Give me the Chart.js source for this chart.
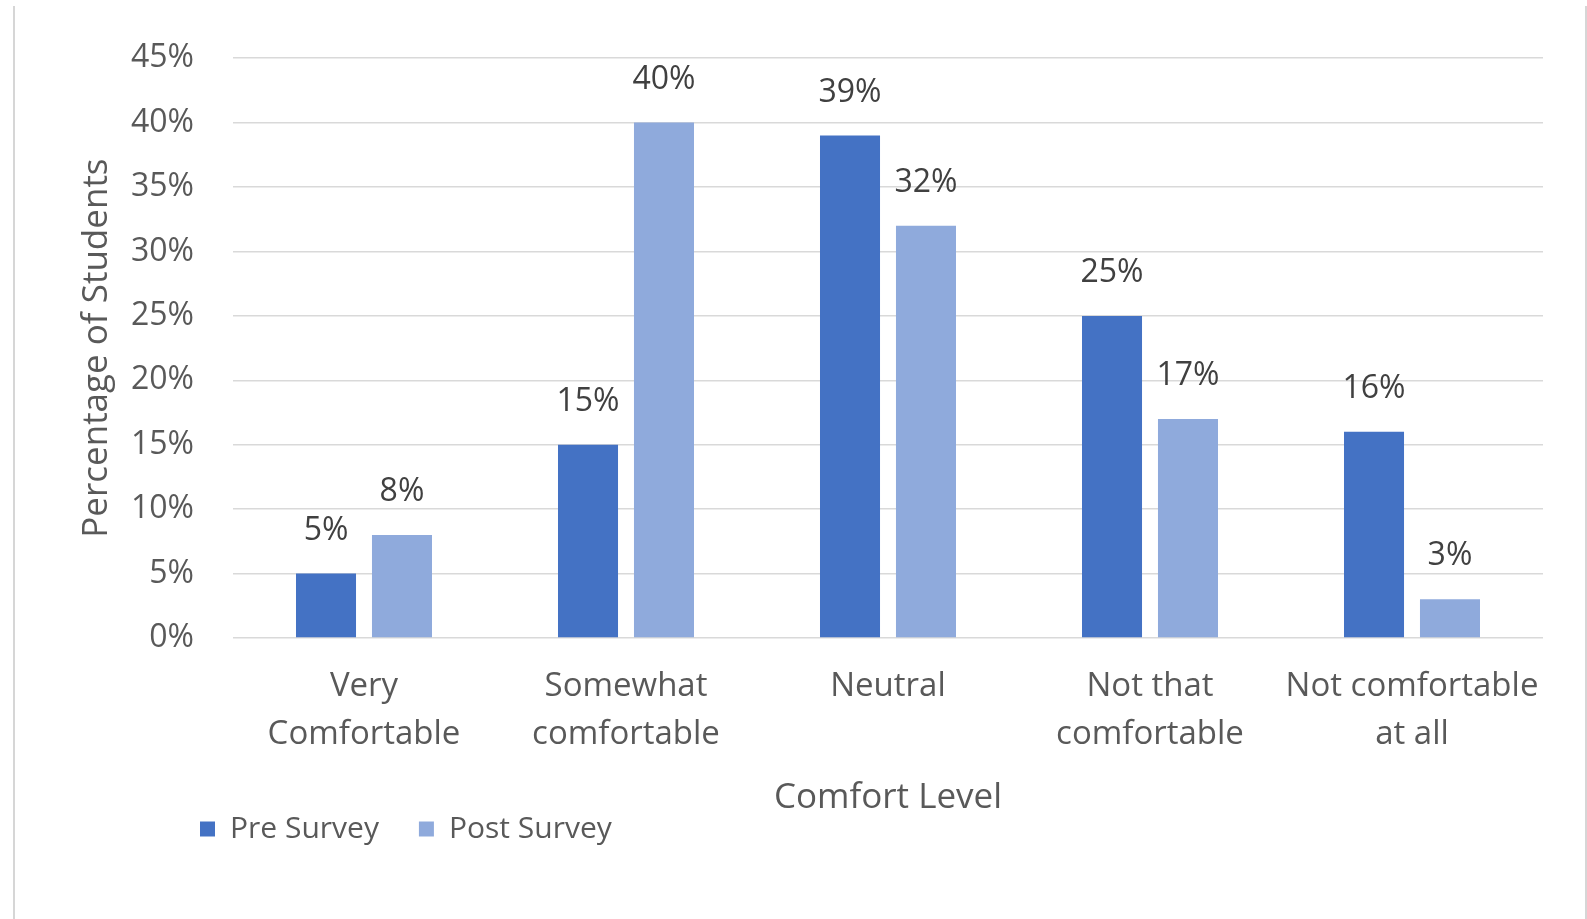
<!DOCTYPE html>
<html>
<head>
<meta charset="utf-8">
<script src="https://cdn.jsdelivr.net/npm/chart.js@4.4.1/dist/chart.umd.min.js"></script>
<style>
  html, body { margin: 0; padding: 0; background: #fff; }
  #wrap { position: relative; width: 1587px; height: 919px; }
  #frame {
    position: absolute; left: 13px; top: 6px; width: 1574px; height: 913px;
    border-left: 2px solid #d6d6d6; border-right: 2px solid #d6d6d6;
    box-sizing: border-box; pointer-events: none;
  }
</style>
</head>
<body>
<div id="wrap">
  <canvas id="comfortChart"></canvas>
  <div id="frame"></div>
</div>
<script>
// comfort level survey, share of students in each answer
var categories = [["Very", "Comfortable"], ["Somewhat", "comfortable"], ["Neutral"], ["Not that", "comfortable"], ["Not comfortable", "at all"]];
var preSurvey = [5, 15, 39, 25, 16];
var postSurvey = [8, 40, 32, 17, 3];
var yMax = 45;
var yStep = 5;

var FONT = '"Open Sans", "DejaVu Sans", sans-serif';
Chart.defaults.font.family = FONT;
Chart.defaults.color = '#595959';

// percent labels above each bar
var barValueLabels = {
  id: 'barValueLabels',
  afterDatasetsDraw: function (chart) {
    var ctx = chart.ctx;
    ctx.save();
    ctx.font = '32px ' + FONT;
    ctx.fillStyle = '#404040';
    ctx.textAlign = 'center';
    ctx.textBaseline = 'alphabetic';
    chart.data.datasets.forEach(function (ds, i) {
      chart.getDatasetMeta(i).data.forEach(function (bar, j) {
        ctx.fillText(ds.data[j] + '%', bar.x, bar.y - 34);
      });
    });
    ctx.restore();
  }
};

// legend sits left, tucked under the axis title
var legendPlacement = {
  id: 'legendPlacement',
  afterLayout: function (chart) {
    var lg = chart.legend;
    lg.left = 160;
    lg.top = 774;
  }
};

var ctx = document.getElementById('comfortChart').getContext('2d');
var comfortChart = new Chart(ctx, {
  type: 'bar',
  data: {
    labels: categories,
    datasets: [{
      label: 'Pre Survey',
      data: preSurvey,
      backgroundColor: '#4472c4',
      categoryPercentage: 0.58,
      barPercentage: 0.79
    }, {
      label: 'Post Survey',
      data: postSurvey,
      backgroundColor: '#8faadc',
      categoryPercentage: 0.58,
      barPercentage: 0.79
    }]
  },
  options: {
    responsive: true,
    maintainAspectRatio: false,
    animation: false,
    layout: { padding: { left: 60, right: 44, top: 55, bottom: 20 } },
    plugins: {
      legend: {
        position: 'bottom',
        align: 'start',
        labels: {
          boxWidth: 15,
          boxHeight: 15,
          padding: 40,
          color: '#595959',
          font: { size: 30 }
        }
      },
      tooltip: { enabled: false }
    },
    scales: {
      x: {
        grid: { display: false },
        border: { display: false },
        ticks: {
          color: '#595959',
          font: { size: 33, lineHeight: 1.45 },
          padding: 17,
          maxRotation: 0,
          autoSkip: false
        },
        title: {
          display: true,
          text: 'Comfort Level',
          color: '#595959',
          font: { size: 35 },
          padding: { top: 0, bottom: 0 }
        },
        afterFit: function (scale) { scale.height = 181; }
      },
      y: {
        min: 0,
        max: yMax,
        grid: { color: '#d9d9d9', lineWidth: 1.5, drawTicks: false },
        border: { display: false },
        ticks: {
          stepSize: yStep,
          padding: 39,
          color: '#595959',
          font: { size: 32 },
          callback: function (v) { return v + '%'; }
        },
        title: {
          display: true,
          text: 'Percentage of Students',
          color: '#595959',
          font: { size: 35 },
          padding: { top: 16, bottom: 0 }
        },
        afterFit: function (scale) { scale.width = 173; }
      }
    }
  },
  plugins: [barValueLabels, legendPlacement]
});
</script>
</body>
</html>
